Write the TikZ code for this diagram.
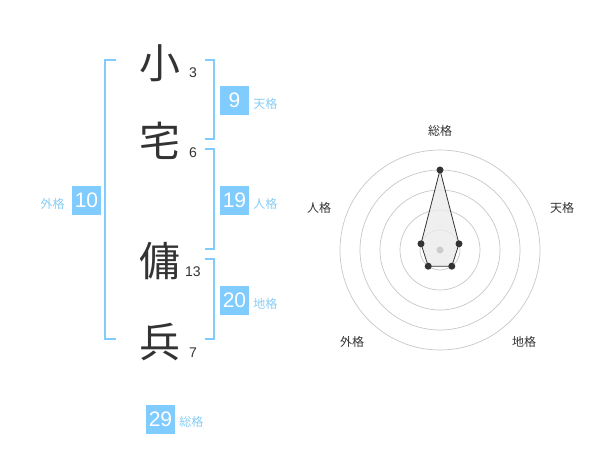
\documentclass[tikz,border=0pt]{standalone}
\usepackage{fontspec}
\setmainfont{Liberation Sans}
\newfontfamily\jp{Noto Sans CJK JP}
\usetikzlibrary{positioning}
\definecolor{kakublue}{HTML}{80CCFF}
\definecolor{labelblue}{HTML}{88CCF5}
\definecolor{inkgray}{HTML}{333333}

\begin{document}
\begin{tikzpicture}[x=1pt,y=-1pt,
  kanji/.style={font=\jp\fontsize{41}{41}\selectfont, text=inkgray, inner sep=0},
  strokes/.style={font=\fontsize{14}{14}\selectfont, text=inkgray, inner sep=0},
  numbox/.style={fill=kakublue, text=white, minimum size=29pt, inner sep=0, font=\fontsize{21}{21}\selectfont},
  kakulabel/.style={font=\jp\fontsize{12}{12}\selectfont, text=labelblue, inner sep=0},
  bracket/.style={draw=kakublue, line width=2pt},
  ring/.style={draw=black!22, line width=0.7pt},
  axislabel/.style={font=\jp\fontsize{12}{12}\selectfont, text=inkgray, inner sep=0},
  vdot/.style={circle, fill=inkgray, inner sep=0, minimum size=7pt}]
\useasboundingbox (0,0) rectangle (600,470);

% name characters and stroke counts
\node[kanji] (k1) at (160,63) {小};
\node[kanji] (k2) at (160,141) {宅};
\node[kanji] (k3) at (160,261) {傭};
\node[kanji] (k4) at (160,342) {兵};
\node[strokes] (s1) at (193,73) {3};
\node[strokes] (s2) at (193,153) {6};
\node[strokes] (s3) at (193,272) {13};
\node[strokes] (s4) at (193,353) {7};

% brackets
\draw[bracket] (116,60) -- (105,60) -- (105,339) -- (116,339);
\draw[bracket] (205,60) -- (214,60) -- (214,139) -- (205,139);
\draw[bracket] (205,149) -- (214,149) -- (214,249) -- (205,249);
\draw[bracket] (205,259) -- (214,259) -- (214,339) -- (205,339);

% boxes
\node[numbox] (ten) at (234.5,100.5) {9};
\node[kakulabel, right=4pt of ten, yshift=-3pt] (tenl) {天格};
\node[numbox] (jin) at (234.5,200.5) {19};
\node[kakulabel, right=4pt of jin, yshift=-3pt] (jinl) {人格};
\node[numbox] (chi) at (234.5,300.5) {20};
\node[kakulabel, right=4pt of chi, yshift=-3pt] (chil) {地格};
\node[numbox] (gai) at (86.5,200.5) {10};
\node[kakulabel, left=7pt of gai, yshift=-3pt] (gail) {外格};
\node[numbox] (so) at (160.5,419) {29};
\node[kakulabel, right=4pt of so, yshift=-3pt] (sol) {総格};

% radar chart
\coordinate (rc) at (440,250);
\draw[ring] (rc) circle[radius=20pt];
\draw[ring] (rc) circle[radius=40pt];
\draw[ring] (rc) circle[radius=60pt];
\draw[ring] (rc) circle[radius=80pt];
\draw[ring] (rc) circle[radius=100pt];

\coordinate (rso) at (440,170);
\coordinate (rten) at (459,243.8);
\coordinate (rchi) at (451.8,266.2);
\coordinate (rgai) at (428.2,266.2);
\coordinate (rjin) at (421,243.8);
\draw[inkgray, line width=0.8pt, fill=black!8, fill opacity=0.8]
  (rso) -- (rten) -- (rchi) -- (rgai) -- (rjin) -- cycle;
\fill[black!20] (rc) circle[radius=3.5pt];
\node[vdot] at (rso) {};
\node[vdot] at (rten) {};
\node[vdot] at (rchi) {};
\node[vdot] at (rgai) {};
\node[vdot] at (rjin) {};

\node[axislabel] (aso) at (440,131) {総格};
\node[axislabel] (aten) at (562,208) {天格};
\node[axislabel] (achi) at (524,342) {地格};
\node[axislabel] (agai) at (352,342) {外格};
\node[axislabel] (ajin) at (319,208) {人格};
\end{tikzpicture}
\end{document}
